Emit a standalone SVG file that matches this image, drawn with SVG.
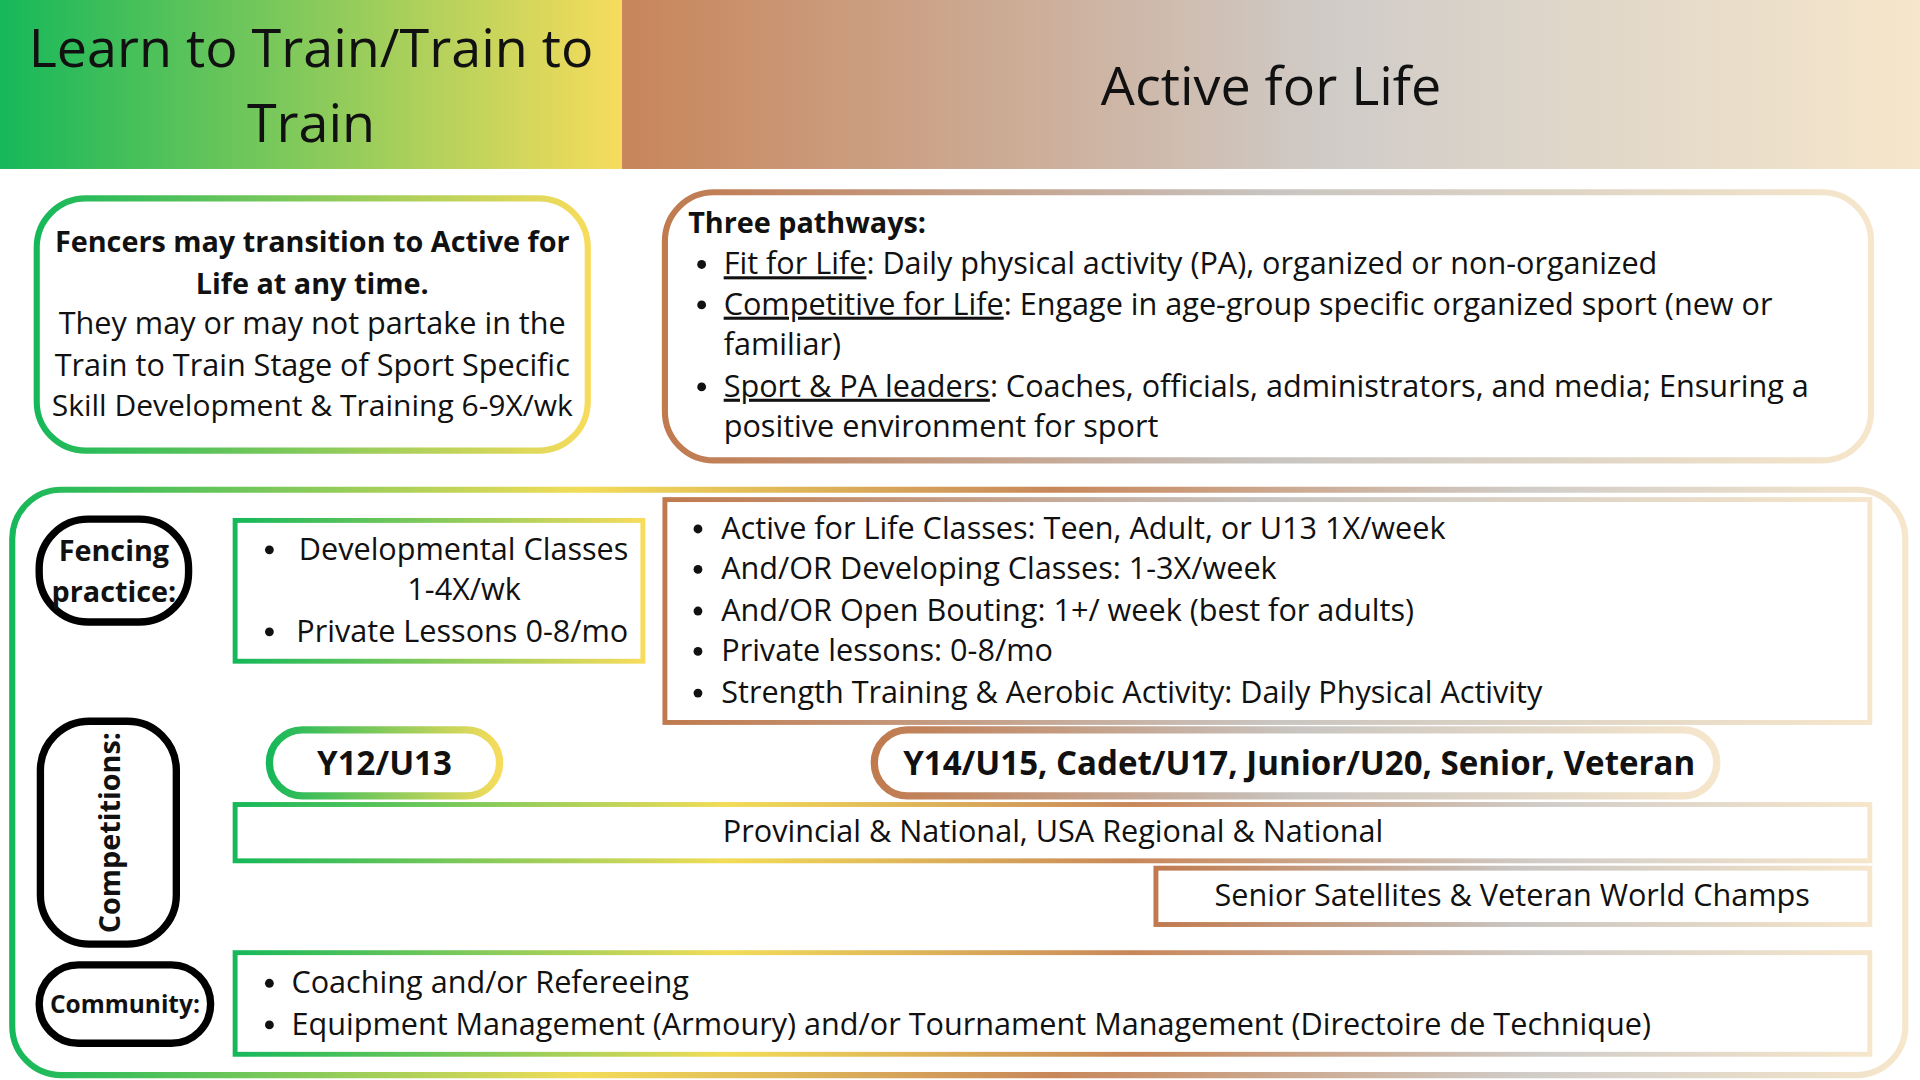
<svg xmlns="http://www.w3.org/2000/svg" width="1920" height="1080" viewBox="0 0 1920 1080">
<defs>
<linearGradient id="gy" x1="0" y1="0" x2="1" y2="0"><stop offset="0" stop-color="#16b85a"/><stop offset="1" stop-color="#f7dc5c"/></linearGradient>
<linearGradient id="hr" x1="0" y1="0" x2="1" y2="0"><stop offset="0" stop-color="#c8855a"/><stop offset="0.55" stop-color="#d0ccc8"/><stop offset="1" stop-color="#f6e6cb"/></linearGradient>
<linearGradient id="cc" x1="0" y1="0" x2="1" y2="0"><stop offset="0" stop-color="#c07a4e"/><stop offset="0.5" stop-color="#c8c4c0"/><stop offset="1" stop-color="#f6e6cb"/></linearGradient>
<linearGradient id="full" x1="0" y1="0" x2="1" y2="0"><stop offset="0" stop-color="#16b85a"/><stop offset="0.3" stop-color="#f2dc58"/><stop offset="0.55" stop-color="#c8875a"/><stop offset="0.8" stop-color="#d0ccc8"/><stop offset="1" stop-color="#f6e6cb"/></linearGradient>
<linearGradient id="outer" gradientUnits="userSpaceOnUse" x1="10" y1="0" x2="1556" y2="0"><stop offset="0" stop-color="#16b85a"/><stop offset="0.3" stop-color="#f2dc58"/><stop offset="0.55" stop-color="#c8875a"/><stop offset="0.8" stop-color="#d0ccc8"/><stop offset="1" stop-color="#f6e6cb"/></linearGradient>
</defs>
<style>
text{font-family:"Open Sans","Liberation Sans",sans-serif;fill:#111;font-size:25px}
.b{font-weight:bold;font-size:23.5px}
.c{text-anchor:middle}
.u{text-decoration:underline}
.h{font-size:44px}
.big{font-weight:bold;font-size:27px}
.pill{fill:none;stroke:#000;stroke-width:6}
.dot{fill:#111}
</style>
<rect width="1920" height="1080" fill="#fff"/>
<g transform="scale(1.2245)">
<g id="header-left"><rect x="0" y="0" width="508" height="138" fill="url(#gy)"/>
<text class="c h" x="254" y="55">Learn to Train/Train to</text>
<text class="c h" x="254" y="116">Train</text></g>
<g id="header-right"><rect x="508" y="0" width="1060" height="138" fill="url(#hr)"/>
<text class="c h" x="1038" y="86">Active for Life</text></g>
<g id="transition"><rect x="30" y="162" width="450" height="206" rx="40" fill="none" stroke="url(#gy)" stroke-width="5"/>
<text class="c b" x="255" y="206">Fencers may transition to Active for</text>
<text class="c b" x="255" y="240">Life at any time.</text>
<text class="c" x="255" y="273">They may or may not partake in the</text>
<text class="c" x="255" y="307">Train to Train Stage of Sport Specific</text>
<text class="c" x="255" y="340" style="font-size:24.5px">Skill Development &amp; Training 6-9X/wk</text></g>
<g id="pathways"><rect x="543" y="157" width="985" height="219" rx="40" fill="none" stroke="url(#cc)" stroke-width="5"/>
<text class="b" x="562" y="190">Three pathways:</text>
<circle class="dot" cx="573" cy="216" r="3.6"/><text x="591" y="224"><tspan class="u">Fit for Life</tspan>: Daily physical activity (PA), organized or non-organized</text>
<circle class="dot" cx="573" cy="249" r="3.6"/><text x="591" y="257"><tspan class="u">Competitive for Life</tspan>: Engage in age-group specific organized sport (new or</text>
<text x="591" y="290">familiar)</text>
<circle class="dot" cx="573" cy="316" r="3.6"/><text x="591" y="324"><tspan class="u">Sport &amp; PA leaders</tspan>: Coaches, officials, administrators, and media; Ensuring a</text>
<text x="591" y="357">positive environment for sport</text></g>
<g id="outer"><rect x="10" y="400" width="1546" height="478" rx="40" fill="none" stroke="url(#outer)" stroke-width="5"/></g>
<g id="fencing-practice"><rect class="pill" x="32" y="424" width="122" height="84" rx="40"/>
<text class="c b" x="93" y="458">Fencing</text><text class="c b" x="93" y="492">practice:</text></g>
<g id="dev-classes"><rect x="192" y="425" width="333" height="115" fill="none" stroke="url(#gy)" stroke-width="4"/>
<circle class="dot" cx="220" cy="449" r="3.6"/><text x="244" y="457">Developmental Classes</text>
<text class="c" x="379" y="490">1-4X/wk</text>
<circle class="dot" cx="220" cy="516" r="3.6"/><text x="242" y="524">Private Lessons 0-8/mo</text></g>
<g id="afl-classes"><rect x="543" y="408" width="984" height="182" fill="none" stroke="url(#cc)" stroke-width="4"/>
<circle class="dot" cx="570" cy="432" r="3.6"/><text x="589" y="440">Active for Life Classes: Teen, Adult, or U13 1X/week</text>
<circle class="dot" cx="570" cy="465" r="3.6"/><text x="589" y="473">And/OR Developing Classes: 1-3X/week</text>
<circle class="dot" cx="570" cy="499" r="3.6"/><text x="589" y="507">And/OR Open Bouting: 1+/ week (best for adults)</text>
<circle class="dot" cx="570" cy="532" r="3.6"/><text x="589" y="540">Private lessons: 0-8/mo</text>
<circle class="dot" cx="570" cy="566" r="3.6"/><text x="589" y="574">Strength Training &amp; Aerobic Activity: Daily Physical Activity</text></g>
<g id="competitions"><rect class="pill" x="33" y="589" width="111" height="182" rx="40"/>
<text class="c b" transform="translate(98,680) rotate(-90)">Competitions:</text></g>
<g id="y12"><rect x="220" y="596" width="188" height="54" rx="27" fill="none" stroke="url(#gy)" stroke-width="6"/>
<text class="c big" x="314" y="633">Y12/U13</text></g>
<g id="y14"><rect x="714" y="596" width="688" height="54" rx="27" fill="none" stroke="url(#cc)" stroke-width="6"/>
<text class="c big" x="1061" y="633">Y14/U15, Cadet/U17, Junior/U20, Senior, Veteran</text></g>
<g id="provincial"><rect x="192" y="657" width="1335" height="46" fill="none" stroke="url(#full)" stroke-width="4"/>
<text class="c" x="860" y="688">Provincial &amp; National, USA Regional &amp; National</text></g>
<g id="satellites"><rect x="944" y="709" width="583" height="46" fill="none" stroke="url(#cc)" stroke-width="4"/>
<text class="c" x="1235" y="740">Senior Satellites &amp; Veteran World Champs</text></g>
<g id="community"><rect class="pill" x="32" y="788" width="140" height="64" rx="32"/>
<text class="c b" x="102" y="827" style="font-size:20px">Community:</text></g>
<g id="community-box"><rect x="192" y="778" width="1335" height="83" fill="none" stroke="url(#full)" stroke-width="4"/>
<circle class="dot" cx="220" cy="803" r="3.6"/><text x="238" y="811">Coaching and/or Refereeing</text>
<circle class="dot" cx="220" cy="837" r="3.6"/><text x="238" y="845">Equipment Management (Armoury) and/or Tournament Management (Directoire de Technique)</text></g>
<g id="connectors"/>
</g>
</svg>
